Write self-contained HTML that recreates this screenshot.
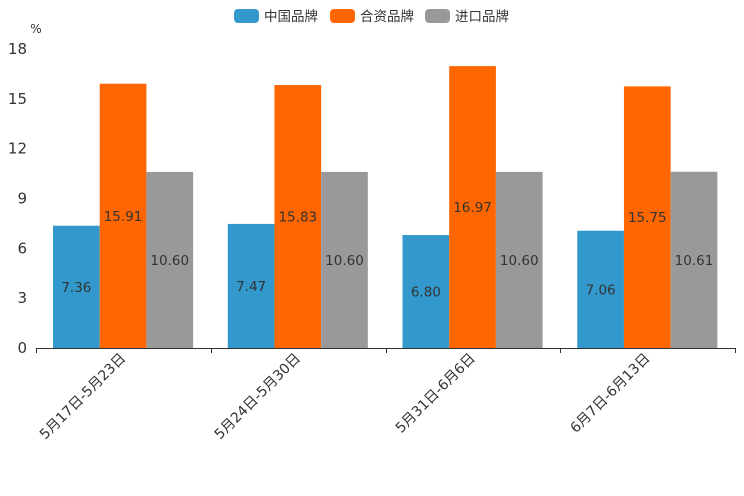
<!DOCTYPE html>
<html><head><meta charset="utf-8"><style>
body{margin:0;background:#fff}
svg{display:block;font-family:"DejaVu Sans","Noto Sans CJK SC",sans-serif}
</style></head><body>
<svg id="c" width="744" height="496">
<g id="legend"></g>
<text x="36" y="33" font-size="12" fill="#333" text-anchor="middle">%</text>
<g id="yaxis"></g>
<g id="bars"></g>
<g id="xaxis"></g>
</svg>
<script>
const categories=["5月17日-5月23日","5月24日-5月30日","5月31日-6月6日","6月7日-6月13日"];
const seriesNames=["中国品牌","合资品牌","进口品牌"];
const chinaBrand=[7.36,7.47,6.80,7.06];
const jvBrand=[15.91,15.83,16.97,15.75];
const importBrand=[10.60,10.60,10.60,10.61];
const yTicks=[0,3,6,9,12,15,18];
const colors=["#3399cc","#ff6600","#999999"];
const series=[chinaBrand,jvBrand,importBrand];
const NS="http://www.w3.org/2000/svg";
const X0=36,X1=735,Y0=348,YT=49,YMAX=18;
const gw=(X1-X0)/categories.length;
const y=v=>Y0-(v/YMAX)*(Y0-YT);
function mk(t,a,p,txt){const e=document.createElementNS(NS,t);for(const k in a)e.setAttribute(k,a[k]);if(txt!=null)e.textContent=txt;p.appendChild(e);return e;}
const ya=document.getElementById('yaxis');
yTicks.forEach(t=>{const e=mk('text',{x:27,y:y(t)+5,'font-size':15,fill:'#333','text-anchor':'end'},ya,t);

});
const xa=document.getElementById('xaxis');
const al=mk('line',{x1:X0,x2:X1,y1:Y0+0.5,y2:Y0+0.5,stroke:'#333'},xa);


for(let i=0;i<=categories.length;i++){const x=Math.round(X0+i*gw)+0.5;const tk=mk('line',{x1:x,x2:x,y1:Y0,y2:Y0+5,stroke:'#333'},xa);

}
const bg=document.getElementById('bars');
const bw=46.7,off=17;
categories.forEach((c,i)=>{
 const gx=X0+i*gw;
 series.forEach((s,j)=>{
  const bx=gx+off+j*bw,by=y(s[i]);
  const r=mk('rect',{x:bx,y:by,width:bw,height:Y0-by,fill:colors[j]},bg);
  
  
  const t=mk('text',{x:bx+bw/2,y:(by+Y0)/2+5,'font-size':13.5,fill:'#333','text-anchor':'middle'},bg,s[i].toFixed(2));
  
  
 });
 const cx=gx+gw/2+3,cy=359;
 const l=mk('text',{x:cx,y:cy,'font-size':14,fill:'#333','text-anchor':'end',transform:`rotate(-45 ${cx} ${cy})`},xa,c);
 
 
});
const lg=document.getElementById('legend');
const lx=[234,330,425];
seriesNames.forEach((n,j)=>{
 const r=mk('rect',{x:lx[j],y:9,width:25,height:14,rx:4,fill:colors[j]},lg);
 
 
 const t=mk('text',{x:lx[j]+30,y:21,'font-size':13.5,fill:'#333'},lg,n);
 
 
});
</script>
</body></html>
